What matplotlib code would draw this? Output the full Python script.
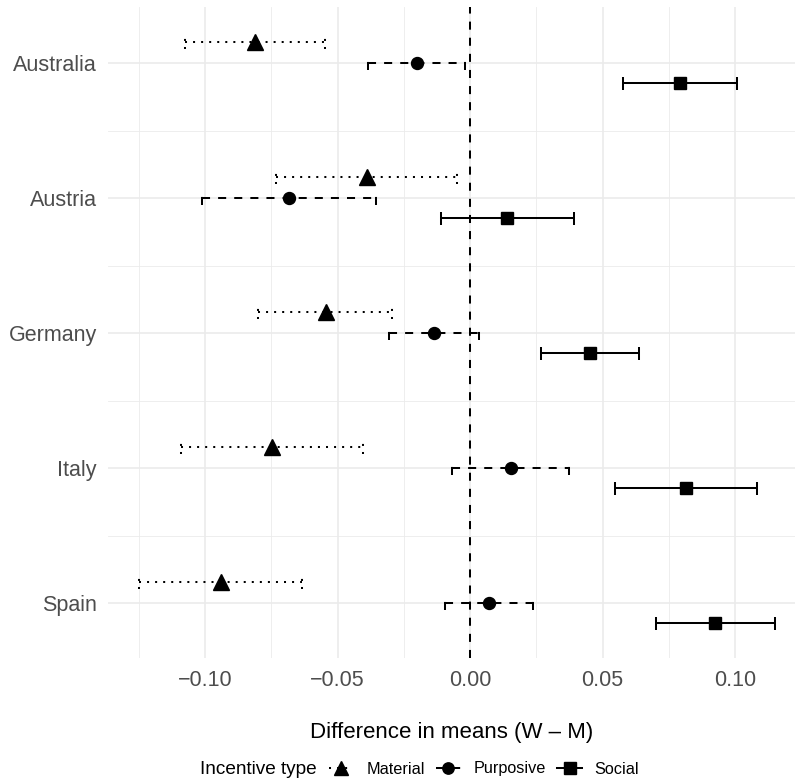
import matplotlib
matplotlib.use("Agg")
import matplotlib.pyplot as plt
from matplotlib.lines import Line2D
import numpy as np

plt.rcParams['font.family'] = ['Liberation Sans', 'DejaVu Sans']

countries = ["Australia", "Austria", "Germany", "Italy", "Spain"]
material_est = [-0.0810, -0.0390, -0.0545, -0.0748, -0.0941]
material_lo = [-0.1075, -0.0732, -0.0799, -0.1091, -0.1248]
material_hi = [-0.0547, -0.0048, -0.0296, -0.0405, -0.0635]
purposive_est = [-0.0201, -0.0683, -0.0136, 0.0155, 0.0073]
purposive_lo = [-0.0385, -0.1013, -0.0305, -0.0067, -0.0094]
purposive_hi = [-0.0019, -0.0355, 0.0034, 0.0374, 0.0239]
social_est = [0.0792, 0.0141, 0.0453, 0.0815, 0.0925]
social_lo = [0.0576, -0.0111, 0.0267, 0.0547, 0.0701]
social_hi = [0.1009, 0.0392, 0.0638, 0.1084, 0.1151]
xticks = [-0.10, -0.05, 0.00, 0.05, 0.10]
xtick_labels = ["\u22120.10", "\u22120.05", "0.00", "0.05", "0.10"]
series_names = ["Material", "Purposive", "Social"]

W, H = 797, 783
fig = plt.figure(figsize=(W / 100, H / 100), dpi=100)
ax = fig.add_axes([108 / W, 1 - 658 / H, (795 - 108) / W, (658 - 7) / H])

base_y = np.arange(len(countries))[::-1] + 1.0
offsets = [0.155, 0.0, -0.15]
styles = [(0, (1, 3)), (0, (4, 4)), '-']
markers = ['^', 'o', 's']
msizes = [11, 8.6, 8.8]
lw = 1.45
cap = 0.05

series = [
    (material_est, material_lo, material_hi),
    (purposive_est, purposive_lo, purposive_hi),
    (social_est, social_lo, social_hi),
]

# grid
for v in np.arange(-0.125, 0.13, 0.05):
    ax.axvline(v, color='#EBEBEB', lw=0.6, zorder=0)
for v in np.arange(0.5, 6, 1.0):
    ax.axhline(v, color='#EBEBEB', lw=0.6, zorder=0)
for v in xticks:
    ax.axvline(v, color='#EBEBEB', lw=1.2, zorder=0)
for v in base_y:
    ax.axhline(v, color='#EBEBEB', lw=1.2, zorder=0)

ax.axvline(0, color='black', lw=lw, linestyle=(0, (4, 4)), zorder=2)

for (est, lo, hi), off, ls, mk, ms in zip(series, offsets, styles, markers, msizes):
    y = base_y + off
    ax.hlines(y, lo, hi, colors='black', linestyles=ls, lw=lw, zorder=3)
    ax.vlines(lo, y - cap, y + cap, colors='black', linestyles=ls, lw=lw, zorder=3)
    ax.vlines(hi, y - cap, y + cap, colors='black', linestyles=ls, lw=lw, zorder=3)
    ax.plot(est, y, linestyle='none', marker=mk, markersize=ms, color='black', zorder=4)

ax.set_xlim(-0.1366, 0.1226)
ax.set_ylim(0.593, 5.415)
ax.set_xticks(xticks)
ax.set_xticklabels(xtick_labels)
ax.set_yticks(base_y)
ax.set_yticklabels(countries)
ax.tick_params(axis='both', length=0, labelsize=15.5, labelcolor='#4D4D4D')
ax.tick_params(axis='x', pad=9)
ax.tick_params(axis='y', pad=8)
for s in ax.spines.values():
    s.set_visible(False)

ax.set_xlabel("Difference in means (W \u2013 M)", fontsize=16, color='black')
ax.xaxis.set_label_coords(0.5, -0.114)
ax.xaxis.label.set_va('center')

# legend
fig.text(200 / W, 1 - 769 / H, "Incentive type", fontsize=13.7, va='center', ha='left')
handles = [Line2D([0], [0], color='black', lw=lw, linestyle=ls, marker=mk, markersize=ms * 0.95)
           for ls, mk, ms in zip(styles, markers, msizes)]
fig.legend(handles, series_names, loc='center left', bbox_to_anchor=(329 / W, 1 - 769 / H),
           ncol=3, frameon=False, fontsize=11.7, borderpad=0, borderaxespad=0,
           handlelength=1.5, handletextpad=0.8, columnspacing=0.7)

fig.savefig("out.png", dpi=100)
